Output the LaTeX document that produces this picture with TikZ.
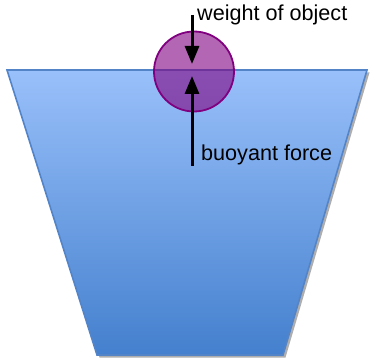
\documentclass[tikz,border=0pt]{standalone}
\usepackage{fontspec}
\setmainfont{Liberation Sans}
\usetikzlibrary{arrows.meta,shadows}
\definecolor{watertop}{RGB}{153,192,250}
\definecolor{waterbot}{RGB}{68,128,206}
\definecolor{wateredge}{RGB}{84,132,200}
\definecolor{ballpurple}{RGB}{128,0,128}
\tikzset{
  water/.style={draw=wateredge, line width=1.6pt, top color=watertop, bottom color=waterbot,
    drop shadow={shadow xshift=2.5pt, shadow yshift=-2.5pt, opacity=0.45, fill=black!70}},
  ball/.style={circle, minimum size=80pt, inner sep=0pt, fill=ballpurple, fill opacity=0.6,
    draw=ballpurple, draw opacity=1, line width=1.8pt},
  force/.style={line width=3pt, -{Triangle[width=14pt,length=18pt]}},
  lbl/.style={font=\fontsize{21.6}{25}\selectfont, inner sep=0pt, anchor=base west}
}
\begin{document}
\begin{tikzpicture}[x=1pt,y=1pt]
\useasboundingbox (0,0) rectangle (370,362);
% container of water
\path[water] (7,292) -- (367,292) -- (283,7) -- (97,7) -- cycle;
% object
\node[ball] (obj) at (194,290.5) {};
% force arrows
\coordinate (wstart) at (192,347);
\coordinate (wend) at (192,298);
\coordinate (bstart) at (192,196);
\coordinate (bend) at (192,286);
\draw[force] (wstart) -- (wend);
\draw[force] (bstart) -- (bend);
% labels
\node[lbl] (wlabel) at (197,341.3) {weight of object};
\node[lbl] (blabel) at (201,201.3) {buoyant force};
\end{tikzpicture}
\end{document}
